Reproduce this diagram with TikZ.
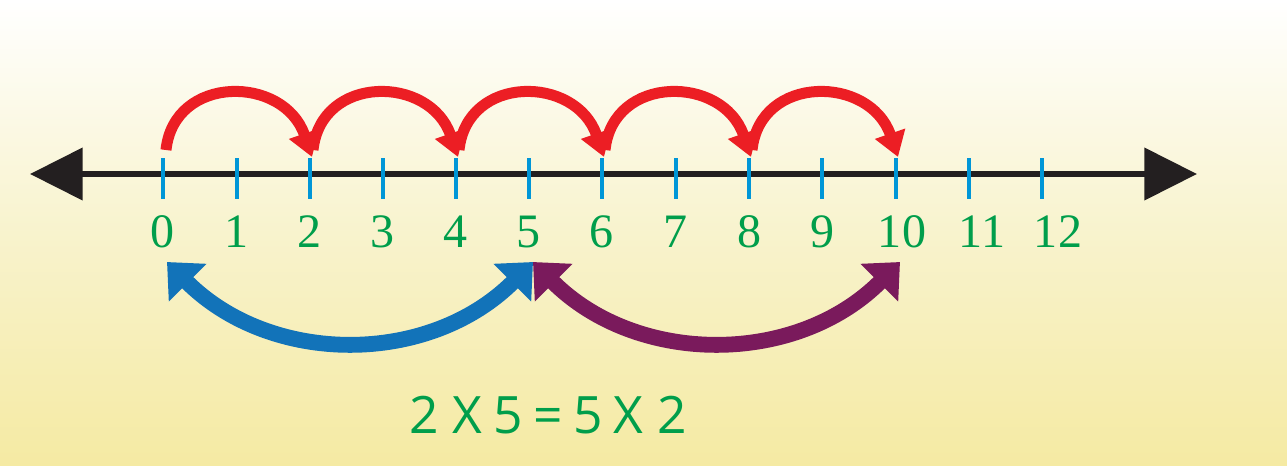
\documentclass[tikz,border=0pt]{standalone}
\usepackage{fontspec}
\setmainfont{Liberation Serif}
\newfontfamily\eqfont{Open Sans}
\usetikzlibrary{arrows.meta,calc}
\definecolor{bgbot}{RGB}{245,234,163}
\definecolor{bgmid}{RGB}{248,243,205}
\definecolor{axisblack}{RGB}{35,31,32}
\definecolor{tickblue}{RGB}{0,150,215}
\definecolor{numgreen}{RGB}{0,158,75}
\definecolor{hopred}{RGB}{236,30,36}
\definecolor{arcblue}{RGB}{18,115,185}
\definecolor{arcpurple}{RGB}{122,26,92}
\tikzset{
  axis/.style={draw=axisblack, line width=5pt, {Triangle[length=45pt,width=44pt]}-{Triangle[length=45pt,width=44pt]}},
  tickmark/.style={draw=tickblue, line width=3.4pt},
  numlabel/.style={text=numgreen, font=\fontsize{41}{41}\selectfont, anchor=base, inner sep=0pt},
  hop/.style={draw=hopred, line width=9.4pt, -{Triangle[length=21pt,width=26pt]}},
  bigarc/.style={line width=13.5pt, {Triangle[length=25pt,width=44pt]}-{Triangle[length=25pt,width=44pt]}},
  eqlabel/.style={text=numgreen, font=\eqfont\fontsize{44}{44}\selectfont, inner sep=0pt}
}
\newcommand\eqgap{\hspace{9pt}}
\begin{document}
\begin{tikzpicture}[x=0.03cm,y=-0.03cm]
\useasboundingbox (0,0) rectangle (1287,465);
\shade[top color=white, bottom color=bgbot, middle color=bgmid] (0,0) rectangle (1287,465);
% axis
\coordinate (L) at (30,174);
\coordinate (R) at (1197,174);
\draw[axis] (L) -- (R);
% ticks and labels
\foreach \i/\x/\dx in {0/163/0,1/237/0,2/310/0,3/383/0,4/456/0,5/529/0,6/602/0,7/676/0,8/749/0,9/822/0,10/896/6,11/969/13,12/1042/16}{
  \coordinate (tt\i) at (\x,158);
  \coordinate (tb\i) at (\x,199);
  \draw[tickmark] (tt\i) -- (tb\i);
  \node[numlabel] (n\i) at (\x+\dx,247) {\i};
  \coordinate (hs\i) at (\x+3,150);
  \coordinate (he\i) at (\x+2,157);
  \coordinate (ba\i) at (\x+4,262);
}
% red hops
\foreach \a/\b in {0/2,2/4,4/6,6/8,8/10}{
  \draw[hop] (hs\a) .. controls ($(hs\a)+(8,-76)$) and ($(he\b)+(-28,-82)$) .. (he\b);
}
% lower arcs
\draw[bigarc, draw=arcblue] (ba0) .. controls ($(ba0)+(104,104)$) and ($(ba5)+(-104,104)$) .. (ba5);
\draw[bigarc, draw=arcpurple] (ba5) .. controls ($(ba5)+(104,104)$) and ($(ba10)+(-104,104)$) .. (ba10);
% equation
\node[eqlabel] (eq) at (548,415) {2\hspace{12pt}X\eqgap 5\eqgap=\eqgap 5\eqgap X\hspace{12pt}2};
\end{tikzpicture}
\end{document}
